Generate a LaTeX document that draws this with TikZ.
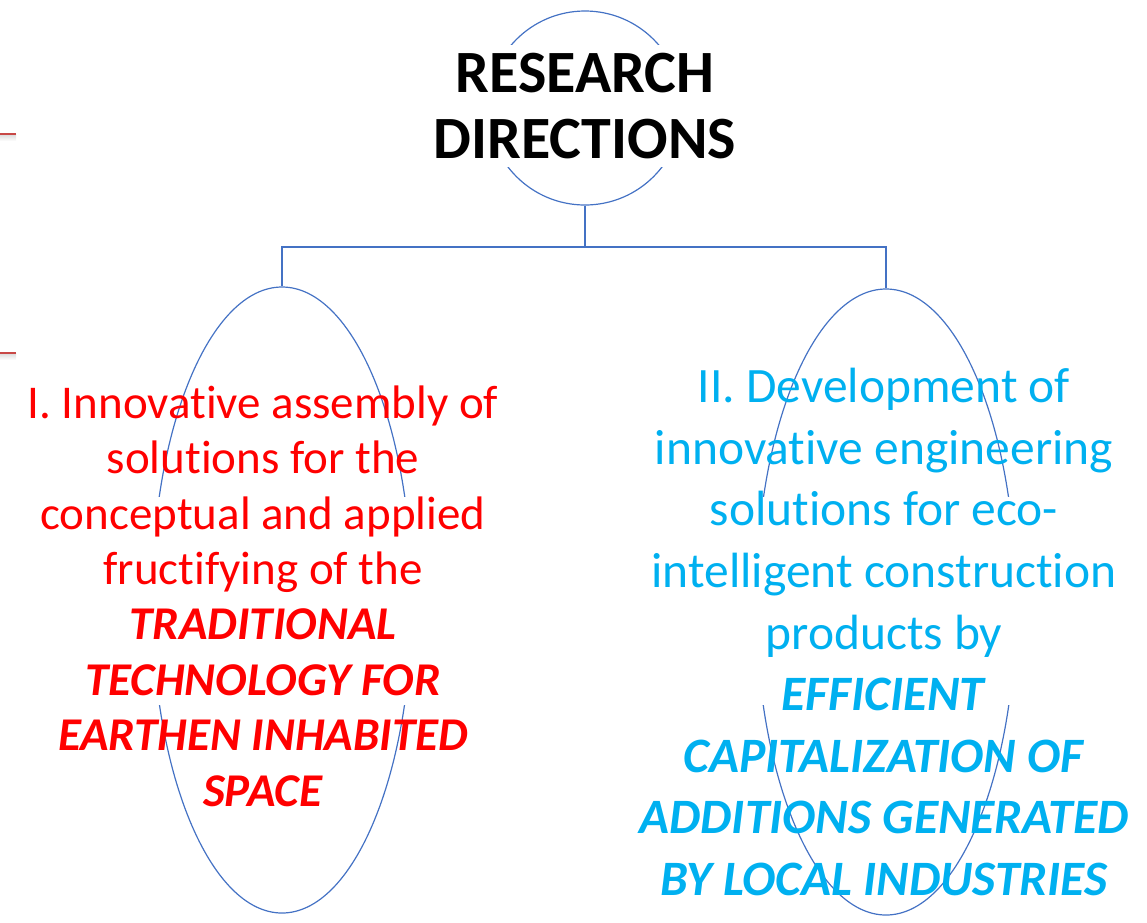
\documentclass[tikz,border=0pt]{standalone}
\usepackage{fontspec}
\setmainfont{Carlito}[Ligatures={CommonOff,ContextualOff}]
\usetikzlibrary{shapes.geometric,calc}

\definecolor{linkblue}{RGB}{68,114,196}
\definecolor{dirred}{RGB}{255,0,0}
\definecolor{dirblue}{RGB}{0,176,240}
\definecolor{markred}{RGB}{200,72,70}

\begin{document}
\begin{tikzpicture}[x=1pt,y=-1pt,
    link/.style={draw=linkblue, line width=1.2pt},
    bubble/.style={ellipse, link, minimum width=260, minimum height=626, inner sep=0},
    edgemark/.style={draw=markred, line width=1.5pt}]
\useasboundingbox (0,0) rectangle (1147,922);

% slide edge marks
\foreach \yy in {134,353}
{
    \shade[top color=black!15, bottom color=white] (0,\yy) rectangle (16,\yy+7);
    \draw[edgemark] (0,\yy) -- (16,\yy);
}

% root
\node[circle, link, minimum size=194, inner sep=0] (root) at (585,108) {};
\node[fill=white, align=center, minimum height=122, inner sep=0,
    font=\fontsize{60}{66}\selectfont\bfseries] (title) at (585,106)
    {RESEARCH\\DIRECTIONS};

% branches
\node[bubble] (left) at (282,600) {};
\node[bubble] (right) at (886,602) {};
\foreach \bb/\up/\dn in {left/-103/105,right/-105/103}
\fill[white] ($(\bb.center)+(-136,\up)$) rectangle ($(\bb.center)+(136,\dn)$);

\coordinate (fork) at (585,247);
\draw[link] (root.south) -- (fork);
\draw[link] (left.north) |- (fork) -| (right.north);

% texts
\node[text=dirred, align=center, inner sep=0,
    font=\fontsize{47}{55.4}\selectfont] (ltext) at (263,596)
    {I. Innovative assembly of\\solutions for the\\conceptual and applied\\
    fructifying of the\\\textbf{\textit{TRADITIONAL}}\\
    \textbf{\textit{TECHNOLOGY FOR}}\\\textbf{\textit{EARTHEN INHABITED}}\\
    \textbf{\textit{SPACE}}};
\node[text=dirblue, align=center, inner sep=0,
    font=\fontsize{49.5}{61.6}\selectfont] (rtext) at (884,632)
    {II. Development of\\innovative engineering\\solutions for eco-\\
    intelligent construction\\products by\\\textbf{\textit{EFFICIENT}}\\
    \textbf{\textit{CAPITALIZATION OF}}\\\textbf{\textit{ADDITIONS GENERATED}}\\
    \textbf{\textit{BY LOCAL INDUSTRIES}}};
\end{tikzpicture}
\end{document}
